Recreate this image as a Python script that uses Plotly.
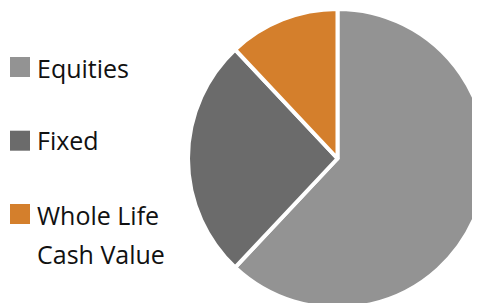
import plotly.graph_objects as go

labels = ["Equities", "Fixed", "Whole Life<br>Cash Value"]
values = [62, 26, 12]
colors = ["#939393", "#6b6b6b", "#d47f2c"]

# page has an 8px body margin; the figure is made larger and positions are
# given in page pixels, converted to figure-paper fractions below
OFF = 8
FW, FH = 492, 312

def px(x):
    return (x - OFF) / FW

def py(y):
    return 1 - (y - OFF) / FH

# pie: centre (337.5, 158.5), radius ~149 in page pixels
cx, cy0, r = 337.5, 158.5, 149.5

fig = go.Figure()
fig.add_trace(go.Pie(
    labels=labels,
    values=values,
    marker=dict(colors=colors, line=dict(color="white", width=4)),
    sort=False,
    direction="clockwise",
    rotation=0,
    textinfo="none",
    hoverinfo="label+percent",
    showlegend=False,
    domain=dict(x=[px(cx - r), px(cx + r)], y=[py(cy0 + r), py(cy0 - r)]),
))

# legend drawn as squares + text
sq_centers = [67, 140.7, 214]
text_centers = [67.6, 139.8, 215.3]
line_gap = 38.3
shapes = []
annotations = []
for lab, col, sc, tc in zip(labels, colors, sq_centers, text_centers):
    shapes.append(dict(type="rect", xref="paper", yref="paper",
                       x0=px(10), x1=px(30), y0=py(sc + 10), y1=py(sc - 10),
                       fillcolor=col, line=dict(width=0)))
    for i, part in enumerate(lab.split("<br>")):
        annotations.append(dict(text=part, xref="paper", yref="paper",
                                x=px(35), y=py(tc + i * line_gap),
                                xanchor="left", yanchor="middle", showarrow=False,
                                font=dict(family="Open Sans", size=25, color="#111111")))

fig.update_layout(
    width=FW, height=FH,
    margin=dict(l=0, r=0, t=0, b=0),
    paper_bgcolor="white", plot_bgcolor="white",
    shapes=shapes, annotations=annotations,
)
fig.write_html("out.html")
